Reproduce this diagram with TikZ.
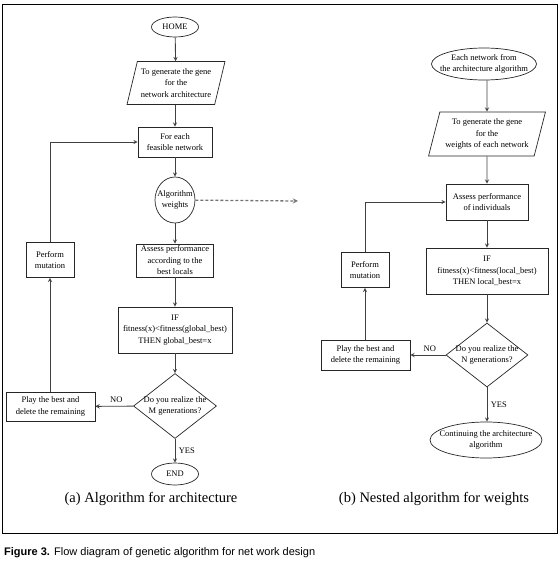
\documentclass[tikz,border=0pt]{standalone}
\usepackage{fontspec}
\setmainfont{Liberation Serif}
\newfontfamily\capfont{Liberation Sans}
\usetikzlibrary{shapes.geometric}

\begin{document}
\begin{tikzpicture}[x=1pt, y=-1pt, >=stealth,
        every node/.style={font=\fontsize{8.5}{11.5}\selectfont, align=center},
        box/.style={draw=black!85, line width=0.7pt, rectangle, inner sep=1pt},
        term/.style={draw=black!85, line width=0.7pt, ellipse, inner sep=0pt},
        io/.style={draw=black!85, line width=0.7pt, trapezium, trapezium left angle=72, trapezium right angle=108, trapezium stretches=true, inner sep=0pt},
        decide/.style={draw=black!85, line width=0.7pt, diamond, inner sep=0pt, minimum width=83pt, minimum height=65pt},
        flow/.style={->, draw=black!75, line width=0.9pt},
        subcap/.style={font=\fontsize{14.5}{16}\selectfont}]
        \useasboundingbox (0,0) rectangle (559,562);
        \draw[line width=0.8pt] (2,4) rectangle (557,533);

        \node[term, minimum width=47pt, minimum height=20pt] (home) at (175,27) {HOME};
        \node[io, minimum width=98pt, minimum height=43pt] (gene1) at (176,83) {To generate the gene\\for the\\network architecture};
        \node[box, minimum width=74pt, minimum height=30pt] (feas) at (175,142) {For each\\feasible network};
        \node[term, minimum width=40pt, minimum height=46pt, label={center:Algorithm\\weights}] (algw) at (175,200) {};
        \node[box, minimum width=77pt, minimum height=33pt] (assess1) at (175,260.5) {Assess performance\\according to the\\best locals};
        \node[box, minimum width=114pt, minimum height=46pt] (if1) at (175,330) {IF\\fitness(x)<fitness(global\_best)\\THEN global\_best=x};
        \node[decide, label={center:Do you realize the\\M generations?}] (dec1) at (175,406) {};
        \node[term, minimum width=47pt, minimum height=22pt] (end1) at (175,474) {END};
        \node[box, minimum width=89pt, minimum height=29pt] (play1) at (50.5,406.5) {Play the best and\\delete the remaining};
        \node[box, minimum width=48pt, minimum height=35pt] (mut1) at (50,260) {Perform\\mutation};
        \coordinate (dashend) at (298,201);

        \node[term, minimum width=105pt, minimum height=32pt, label={center:Each network from\\the architecture algorithm}] (each) at (484,64) {};
        \node[io, minimum width=117pt, minimum height=44pt] (gene2) at (487,134) {To generate the gene\\for the\\weights of each network};
        \node[box, minimum width=82pt, minimum height=36pt] (assess2) at (487,202) {Assess performance\\of individuals};
        \node[box, minimum width=122pt, minimum height=46pt] (if2) at (487,271) {IF\\fitness(x)<fitness(local\_best)\\THEN local\_best=x};
        \node[decide, minimum width=82pt, minimum height=64pt, label={center:Do you realize the\\N generations?}] (dec2) at (487,355) {};
        \node[term, minimum width=112pt, minimum height=36pt, label={center:Continuing the architecture\\algorithm}] (cont) at (486,440) {};
        \node[box, minimum width=89pt, minimum height=30pt] (play2) at (365.5,355) {Play the best and\\delete the remaining};
        \node[box, minimum width=48pt, minimum height=35pt] (mut2) at (365,270) {Perform\\mutation};

        \draw[flow] (home) -- (gene1);
        \draw[flow] (gene1.south -| feas) -- (feas);
        \draw[flow] (feas) -- (algw);
        \draw[flow] (algw) -- (assess1);
        \draw[flow] (assess1) -- (if1);
        \draw[flow] (if1) -- (dec1);
        \draw[flow] (dec1) -- node[right]{YES} (end1);
        \draw[flow] (dec1) -- node[above, pos=0.45]{NO} (play1);
        \draw[flow] (play1.north -| mut1) -- (mut1);
        \draw[flow] (mut1) |- (feas);
        \draw[->, dashed, dash pattern=on 3pt off 2pt, draw=black!55, line width=1.3pt] (algw) -- (dashend);

        \draw[flow] (each.south -| gene2) -- (gene2);
        \draw[flow] (gene2) -- (assess2);
        \draw[flow] (assess2) -- (if2);
        \draw[flow] (if2) -- (dec2);
        \draw[flow] (dec2) -- node[right]{YES} (dec2.south |- cont.north);
        \draw[flow] (dec2) -- node[above, pos=0.45]{NO} (play2);
        \draw[flow] (play2.north -| mut2) -- (mut2);
        \draw[flow] (mut2) |- (assess2);

        \node[subcap] (capa) at (151,499) {(a) Algorithm for architecture};
        \node[subcap] (capb) at (434,499) {(b) Nested algorithm for weights};
        \node[font=\capfont\fontsize{11}{13}\selectfont, anchor=base west, inner sep=0pt] (figcap) at (4,555) {\textbf{Figure 3.} Flow diagram of genetic algorithm for net work design};
\end{tikzpicture}
\end{document}
